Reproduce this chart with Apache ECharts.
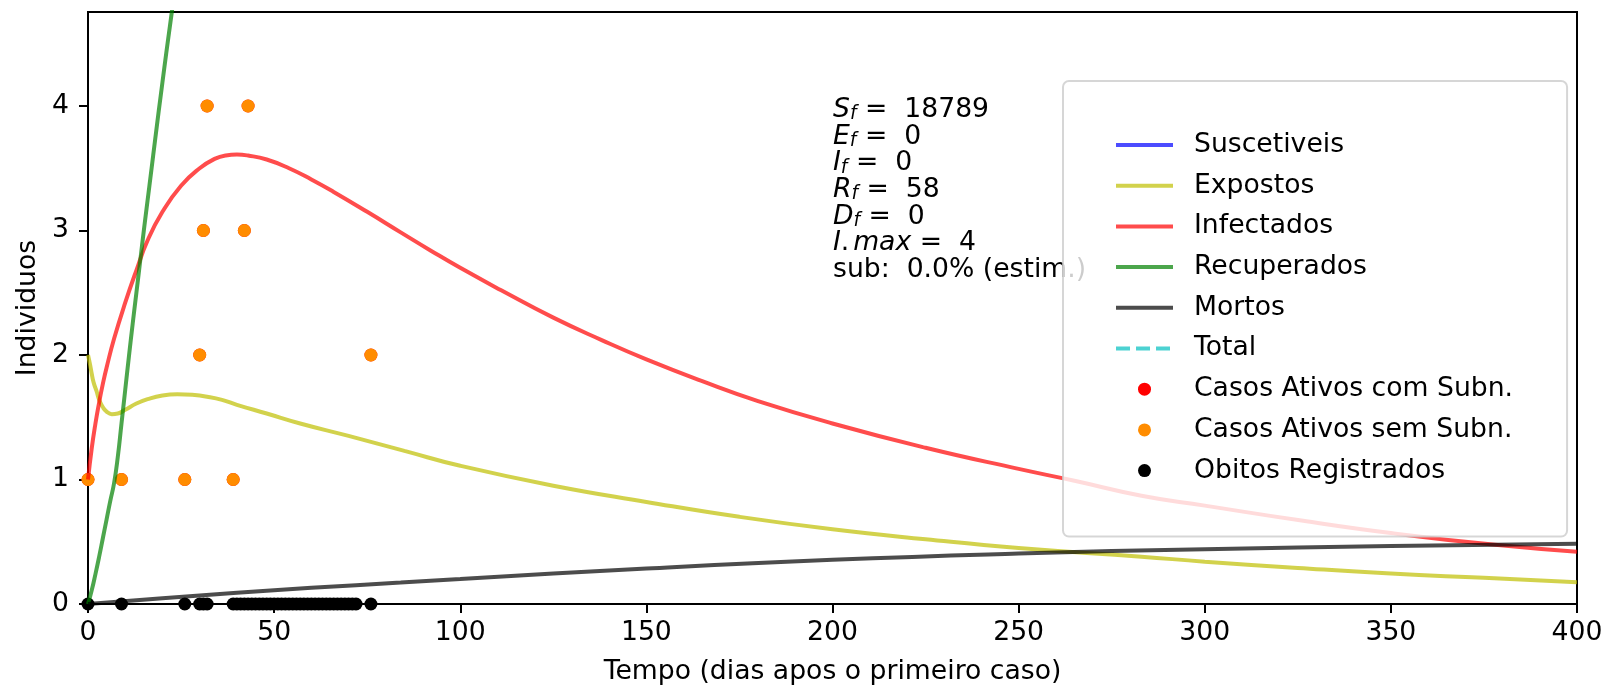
<!DOCTYPE html>
<html>
<head>
<meta charset="utf-8">
<script src="https://cdn.jsdelivr.net/npm/echarts@6/dist/echarts.min.js"></script>
<style>html,body{margin:0;padding:0;background:#fff}#c{width:1607px;height:688px}</style>
</head>
<body>
<div id="c"></div>
<script>
// ---- data ----
const xTicks = [0, 50, 100, 150, 200, 250, 300, 350, 400];
const yTicks = [0, 1, 2, 3, 4];
const seriesNames = ['Suscetiveis', 'Expostos', 'Infectados', 'Recuperados', 'Mortos', 'Total',
  'Casos Ativos com Subn.', 'Casos Ativos sem Subn.', 'Obitos Registrados'];

const suscetiveis = [[0, 18846], [100, 18800], [200, 18792], [400, 18789]];
const total = [[0, 18847], [400, 18847]];
const expostos = [[0, 2.0], [0.5, 1.93], [1, 1.85], [1.5, 1.78], [2.3, 1.71], [3, 1.64], [4, 1.58], [5, 1.545],
  [6.4, 1.525], [8, 1.53], [10, 1.56], [13, 1.61], [16, 1.645], [20, 1.675], [24, 1.685], [28, 1.68],
  [32, 1.665], [36, 1.64], [40, 1.6], [48, 1.53], [57, 1.45], [70, 1.35], [85, 1.23], [100, 1.11],
  [125, 0.95], [150, 0.82], [175, 0.70], [200, 0.60], [225, 0.52], [250, 0.45], [283, 0.38], [300, 0.34],
  [325, 0.29], [350, 0.245], [375, 0.21], [400, 0.175]];
const infectados = [[0, 1.0], [1, 1.25], [2, 1.45], [3, 1.62], [4, 1.77], [5, 1.9], [7, 2.13], [10, 2.42],
  [13, 2.68], [16, 2.92], [20, 3.15], [25, 3.36], [30, 3.50], [34, 3.575], [37, 3.603], [40, 3.61], [43, 3.602],
  [48, 3.57], [54, 3.50], [60, 3.41], [66, 3.31], [75, 3.15], [84, 2.985], [92, 2.84], [100, 2.70], [111, 2.52],
  [125, 2.30], [138, 2.12], [150, 1.965], [165, 1.79], [180, 1.63], [200, 1.45], [225, 1.255], [250, 1.085],
  [265, 0.99], [283, 0.87], [300, 0.79], [326, 0.67], [350, 0.57], [378, 0.475], [400, 0.42]];
const recuperados = [[0, 0], [1, 0.11], [2, 0.24], [3, 0.38], [4, 0.53], [5, 0.68], [6, 0.83], [7, 0.97],
  [8, 1.18], [9, 1.45], [10, 1.72], [11, 1.99], [12, 2.25], [13, 2.5], [14, 2.75], [15, 3.0], [16, 3.24],
  [17, 3.48], [18, 3.72], [19, 3.96], [20, 4.19], [21, 4.42], [22, 4.64], [23, 4.86], [24, 5.07], [26, 5.5],
  [30, 6.3], [50, 10], [100, 19], [200, 35], [300, 48], [400, 58]];
const mortos = [[0, 0], [20, 0.046], [40, 0.09], [60, 0.13], [84, 0.172], [100, 0.2], [150, 0.285],
  [200, 0.355], [250, 0.405], [300, 0.44], [350, 0.465], [400, 0.483]];
const casosDias = [0, 9, 26, 39, 30, 76, 31, 42, 32, 43];
const casosValores = [1, 1, 1, 1, 2, 2, 3, 3, 4, 4];
const obitosDias = [0, 9, 26, 30, 31, 32, 39, 40, 41, 42, 43, 44, 45, 46, 47, 48, 49, 50, 51, 52, 53, 54, 55,
  56, 57, 58, 59, 60, 61, 62, 63, 64, 65, 66, 67, 68, 69, 70, 71, 72, 76];
const annot = { Sf: 18789, Ef: 0, If: 0, Rf: 58, Df: 0, Imax: 4, sub: '0.0%' };

// ---- chart ----
const FONT = 'DejaVu Sans';
const FS = 26.67;
const chart = echarts.init(document.getElementById('c'), null, { renderer: 'canvas' });
const casos = casosDias.map((d, i) => [d, casosValores[i]]);
const obitos = obitosDias.map(d => [d, 0]);

function lineSeries(name, data, color, type) {
  return {
    name, type: 'line', data, symbol: 'none', smooth: 0.5, clip: true,
    lineStyle: { color, width: 4, type: type || 'solid' }, itemStyle: { color },
    emphasis: { disabled: true }
  };
}
function scatterSeries(name, data, color) {
  return { name, type: 'scatter', data, symbol: 'circle', symbolSize: 13, itemStyle: { color, opacity: 1 },
    emphasis: { disabled: true } };
}

const ann = [
  `{v|S}{s|f}{n| =  ${annot.Sf}}`,
  `{v|E}{s|f}{n| =  ${annot.Ef}}`,
  `{v|I}{s|f}{n| =  ${annot.If}}`,
  `{v|R}{s|f}{n| =  ${annot.Rf}}`,
  `{v|D}{s|f}{n| =  ${annot.Df}}`,
  `{v|I}{n|.}{t| }{v|max}{n| =  ${annot.Imax}}`,
  `{n|sub:  ${annot.sub} (estim.)}`
].join('\n');

const option = {
  animation: false,
  backgroundColor: '#fff',
  grid: { left: 88, right: 30, top: 12, bottom: 84, show: true, borderColor: '#000', borderWidth: 2,
    backgroundColor: 'transparent', containLabel: false, outerBoundsMode: 'none' },
  xAxis: {
    type: 'value', min: 0, max: 400, interval: 50,
    name: 'Tempo (dias apos o primeiro caso)', nameLocation: 'middle', nameGap: 55,
    nameTextStyle: { fontFamily: FONT, fontSize: FS, color: '#000' },
    axisLine: { show: true, onZero: false, lineStyle: { color: '#000', width: 2 } },
    axisTick: { show: true, inside: false, length: 9, lineStyle: { color: '#000', width: 2 }, customValues: xTicks },
    axisLabel: { fontFamily: FONT, fontSize: FS, color: '#000', margin: 16, customValues: xTicks },
    splitLine: { show: false }
  },
  yAxis: {
    type: 'value', min: 0, max: 4.755,
    name: 'Individuos', nameLocation: 'middle', nameGap: 46, nameRotate: 90,
    nameTextStyle: { fontFamily: FONT, fontSize: FS, color: '#000' },
    axisLine: { show: true, onZero: false, lineStyle: { color: '#000', width: 2 } },
    axisTick: { show: true, inside: false, length: 9, lineStyle: { color: '#000', width: 2 }, customValues: yTicks },
    axisLabel: { fontFamily: FONT, fontSize: FS, color: '#000', margin: 19, customValues: yTicks },
    splitLine: { show: false }
  },
  legend: {
    orient: 'vertical', left: 1063, top: 81, padding: [50, 54, 52, 51],
    itemWidth: 57, itemHeight: 13, itemGap: 12.7,
    backgroundColor: 'rgba(255,255,255,0.8)', borderColor: 'rgba(204,204,204,0.8)', borderWidth: 2, borderRadius: 6,
    lineStyle: { width: 4 },
    textStyle: { fontFamily: FONT, fontSize: FS, color: '#000', lineHeight: 28, padding: [0, 0, 0, 16] },
    selectedMode: false,
    data: seriesNames.map((n, i) => i < 6 ? { name: n, itemStyle: { opacity: 0 } } : { name: n })
  },
  graphic: [{
    type: 'text', left: 833, top: 96, z: 3,
    style: {
      text: ann, fill: '#000',
      rich: {
        v: { fontFamily: FONT, fontSize: FS, fontStyle: 'italic', lineHeight: 26.7, fill: '#000' },
        s: { fontFamily: FONT, fontSize: 18.7, fontStyle: 'italic', lineHeight: 26.7, padding: [9, 0, 0, 0], fill: '#000' },
        t: { fontFamily: FONT, fontSize: 12, lineHeight: 26.7 },
        n: { fontFamily: FONT, fontSize: FS, lineHeight: 26.7, fill: '#000' }
      }
    }
  }],
  series: [
    lineSeries(seriesNames[0], suscetiveis, 'rgba(0,0,255,0.7)'),
    lineSeries(seriesNames[1], expostos, 'rgba(191,191,0,0.7)'),
    lineSeries(seriesNames[2], infectados, 'rgba(255,0,0,0.7)'),
    lineSeries(seriesNames[3], recuperados, 'rgba(0,128,0,0.7)'),
    lineSeries(seriesNames[4], mortos, 'rgba(0,0,0,0.7)'),
    lineSeries(seriesNames[5], total, 'rgba(0,191,191,0.7)', [14, 6]),
    scatterSeries(seriesNames[6], casos, '#ff0000'),
    scatterSeries(seriesNames[7], casos, '#ff8c00'),
    scatterSeries(seriesNames[8], obitos, '#000000')
  ]
};
chart.setOption(option);
</script>
</body>
</html>
